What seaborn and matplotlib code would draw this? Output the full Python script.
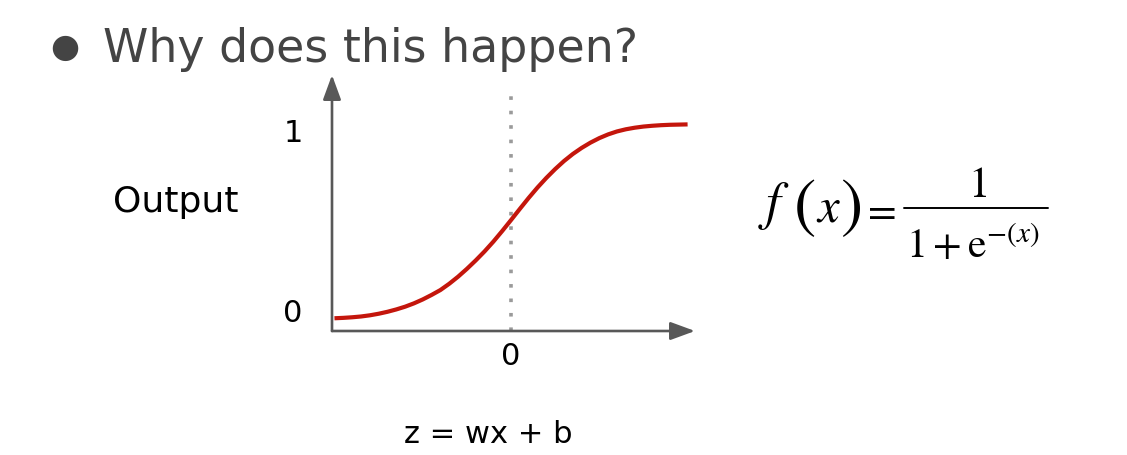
import matplotlib
matplotlib.use("Agg")
import matplotlib.pyplot as plt
import matplotlib.transforms as mtrans
from matplotlib.lines import Line2D
import pandas as pd
import seaborn as sns

# sigmoid curve, values
z_vals = [-5.0, -4.75, -4.5, -4.25, -4.0, -3.75, -3.5, -3.25, -3.0, -2.75, -2.5,
          -2.25, -2.0, -1.75, -1.5, -1.25, -1.0, -0.75, -0.5, -0.25, 0.0,
          0.25, 0.5, 0.75, 1.0, 1.25, 1.5, 1.75, 2.0, 2.25, 2.5,
          2.75, 3.0, 3.25, 3.5, 3.75, 4.0, 4.25, 4.5, 4.75, 5.0]
out_vals = [0.004, 0.006, 0.009, 0.013, 0.019, 0.027, 0.037, 0.049, 0.063, 0.080, 0.100,
            0.123, 0.148, 0.180, 0.216, 0.256, 0.299, 0.345, 0.395, 0.449, 0.505,
            0.562, 0.618, 0.671, 0.720, 0.765, 0.806, 0.842, 0.873, 0.900, 0.923,
            0.942, 0.957, 0.968, 0.976, 0.982, 0.986, 0.989, 0.991, 0.992, 0.993]
y_ticks = [0, 1]
y_tick_labels = ["0", "1"]
x_ticks = [0]
x_tick_labels = ["0"]

df = pd.DataFrame({"z": z_vals, "output": out_vals})

sns.set_style("white")
plt.rcParams["font.family"] = ["DejaVu Sans"]
plt.rcParams["mathtext.fontset"] = "stix"

W, H = 1127, 456
fig = plt.figure(figsize=(W / 100, H / 100), dpi=100)


def fx(x):
    return x / W


def fy(y):
    return 1 - y / H


ax = fig.add_axes([fx(332), fy(332), fx(695) - fx(332), fy(76) - fy(332)])
ax.set_xlim(-5.07, 5.21)
ax.set_ylim(-0.061, 1.245)

sns.lineplot(data=df, x="z", y="output", ax=ax, color="#c4160c", linewidth=3.0,
             solid_capstyle="butt", solid_joinstyle="round")

# dotted line at z = 0
ax.plot([0, 0], [-0.061, 1.163], color="#9a9a9a", linewidth=2.6,
        linestyle=(0, (1, 3.0)), zorder=1)

# axes drawn as arrows
for s in ax.spines.values():
    s.set_visible(False)
axcol = "#585858"
for tip in [(1.0, 0.0), (0.0, 1.0)]:
    ax.annotate("", xy=tip, xytext=(0.0, 0.0), xycoords="axes fraction",
                arrowprops=dict(arrowstyle="-|>,head_length=1.5,head_width=0.55",
                                color=axcol, lw=1.9, shrinkA=0, shrinkB=0))

ax.set_xticks(x_ticks)
ax.set_xticklabels(x_tick_labels, fontsize=22)
ax.set_yticks(y_ticks)
ax.set_yticklabels(y_tick_labels, fontsize=22)
ax.tick_params(length=0, colors="black")
ax.tick_params(axis="y", pad=21)
ax.tick_params(axis="x", pad=7)
ax.set_xlabel("")
ax.set_ylabel("")

# nudge tick labels to where they sit in the reference
ylabs = ax.get_yticklabels()
ylabs[0].set_transform(ylabs[0].get_transform() + mtrans.ScaledTranslation(0, 0.095, fig.dpi_scale_trans))
ylabs[1].set_transform(ylabs[1].get_transform() + mtrans.ScaledTranslation(0, -0.06, fig.dpi_scale_trans))

# slide title
fig.text(fx(65), fy(47), "●", fontsize=24, color="#444444", ha="center", va="center")
fig.text(fx(103), fy(62), "Why does this happen?", fontsize=33, color="#444444",
         ha="left", va="baseline")

fig.text(fx(176), fy(212), "Output", fontsize=26, color="black", ha="center", va="baseline")
fig.text(fx(488), fy(443), "z = wx + b", fontsize=22, color="black", ha="center", va="baseline")

# formula f(x) = 1 / (1 + e^-(x))
fig.text(fx(758), fy(206), r"$f$", fontsize=38, color="black", ha="left", va="center")
fig.text(fx(794), fy(210), "(", fontsize=48, color="black", ha="left", va="center",
         family="STIXGeneral")
fig.text(fx(816), fy(208), r"$x$", fontsize=35, color="black", ha="left", va="center")
fig.text(fx(840), fy(210), ")", fontsize=48, color="black", ha="left", va="center",
         family="STIXGeneral")
fig.text(fx(861), fy(210), r"$=$", fontsize=30, color="black", ha="left", va="center")
fig.text(fx(977), fy(197), r"$1$", fontsize=31, color="black", ha="center", va="baseline")
fig.add_artist(Line2D([fx(904), fx(1048)], [fy(209), fy(209)], color="black", lw=1.4))
fig.text(fx(906), fy(258), r"$1+\mathrm{e}^{-(x)}$", fontsize=30, color="black",
         ha="left", va="baseline")

fig.savefig("out.png", dpi=100)
